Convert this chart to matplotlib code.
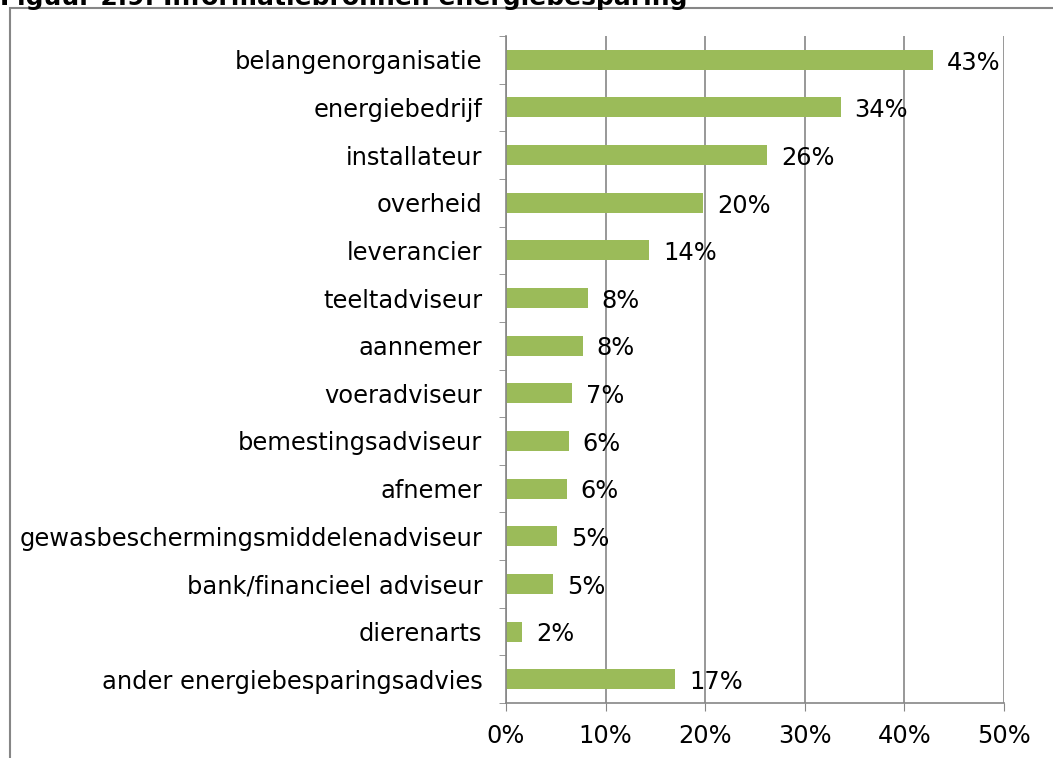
import numpy as np
import matplotlib
matplotlib.use("Agg")
import matplotlib.pyplot as plt
from matplotlib.patches import Rectangle

# data, top to bottom as in the chart
categories = [
    "belangenorganisatie",
    "energiebedrijf",
    "installateur",
    "overheid",
    "leverancier",
    "teeltadviseur",
    "aannemer",
    "voeradviseur",
    "bemestingsadviseur",
    "afnemer",
    "gewasbeschermingsmiddelenadviseur",
    "bank/financieel adviseur",
    "dierenarts",
    "ander energiebesparingsadvies",
]
values = [42.9, 33.6, 26.2, 19.8, 14.4, 8.2, 7.7, 6.6, 6.3, 6.1, 5.1, 4.7, 1.6, 17.0]
x_ticks = [0, 10, 20, 30, 40, 50]

green = "#9BBB59"
grey = "#868686"
fs = 17.4

fig = plt.figure(figsize=(10.53, 7.58), dpi=100)
ax = fig.add_axes([506 / 1053, 1 - 703 / 758, (1004 - 506) / 1053, (703 - 36) / 758])

n = len(categories)
y = np.arange(n)
ax.barh(y, values, height=0.42, color=green, zorder=3)
ax.set_ylim(n - 0.5, -0.5)
ax.set_xlim(0, 50)

# value labels
for yi, v in zip(y, values):
    ax.annotate(f"{v:.0f}%", xy=(v, yi), xytext=(10, -2), textcoords="offset points",
                ha="left", va="center", fontsize=fs, zorder=4)

# axes styling
ax.set_yticks(y)
ax.set_yticklabels(categories, fontsize=fs)
ax.set_yticks(np.arange(n + 1) - 0.5, minor=True)
ax.tick_params(axis="y", which="major", length=0, pad=17)
ax.tick_params(axis="y", which="minor", length=5, color=grey, direction="out")
ax.set_xticks(x_ticks)
ax.set_xticklabels([f"{t}%" for t in x_ticks], fontsize=fs)
ax.tick_params(axis="x", length=6, color=grey, direction="out", pad=9)
ax.grid(axis="x", color=grey, linewidth=1.2, zorder=0)
for s in ["top", "right"]:
    ax.spines[s].set_visible(False)
for s in ["left", "bottom"]:
    ax.spines[s].set_color(grey)
    ax.spines[s].set_linewidth(1.2)
    ax.spines[s].set_zorder(3)

# outer chart frame (cut off by the screenshot)
fig.patches.append(Rectangle((10 / 1053, -0.1), 1.2, 1 - 8 / 758 + 0.1, transform=fig.transFigure,
                             fill=False, edgecolor=grey, linewidth=1.5))

# title, partially cut at the top
fig.text(0.0, 1 - 5 / 758, "Figuur 2.9: Informatiebronnen energiebesparing",
         fontsize=18, fontweight="bold", ha="left", va="baseline")

fig.savefig("out.png", dpi=100)
